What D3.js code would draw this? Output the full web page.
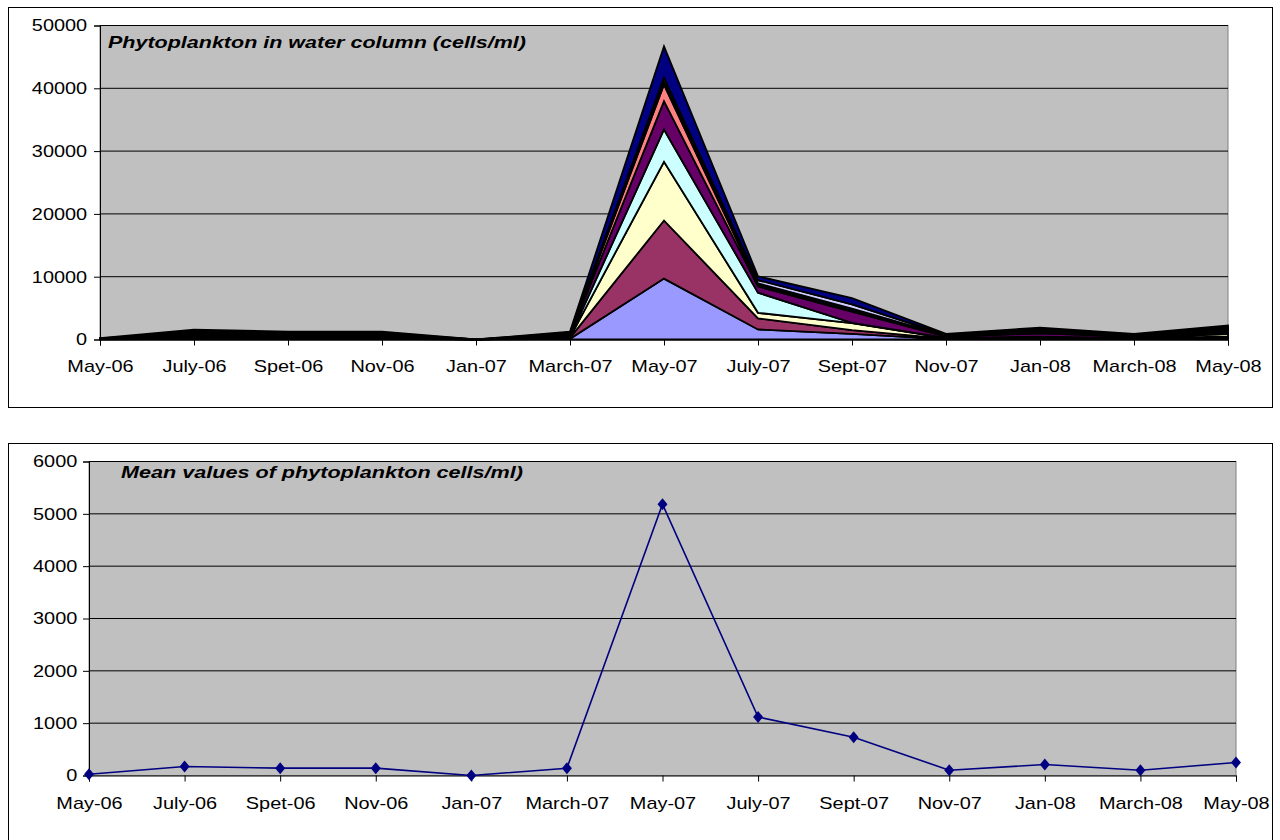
<!DOCTYPE html>
<meta charset="utf-8">
<script src="https://d3js.org/d3.v7.min.js"></script>
<style>
    body { margin: 0; background: #fff; }
    text { font-family: Arial, "Liberation Sans", sans-serif; fill: #000; }
</style>
<div id="charts"></div>
<script>
    // sampling dates (spelling as on the original axis)
    const dates = ["May-06","July-06","Spet-06","Nov-06","Jan-07","March-07","May-07",
                   "July-07","Sept-07","Nov-07","Jan-08","March-08","May-08"];

    // nine stacked groups, cells/ml, bottom to top
    const group1 = [30, 100,  80,  90, 0, 100, 9700, 1600,  900,  60, 120,  60, 300];
    const group2 = [20, 150, 120, 110, 0, 150, 9250, 1750,  600,  90, 150,  80, 200];
    const group3 = [20, 120, 100, 100, 0, 100, 9350,  900, 1100,  80, 130,  70, 400];
    const group4 = [10,  80,  90,  70, 0,  60, 5150, 3200,   50,  40,  60,  40, 100];
    const group5 = [40, 300, 250, 260, 0, 250, 4500, 1000, 1800, 200, 500, 200, 300];
    const group6 = [15, 100,  80,  90, 0,  80, 2650,  200,  150,  60, 130,  70, 130];
    const group7 = [20, 150, 120, 120, 0, 120,  400,  300,  300,  90, 200, 100, 200];
    const group8 = [30, 250, 200, 200, 0, 200,  700,  500,  700, 140, 300, 140, 300];
    const group9 = [40, 300, 220, 220, 0, 200, 4970,  610,  980, 150, 300, 150, 300];
    const groups = [group1, group2, group3, group4, group5, group6, group7, group8, group9];
    const groupColors = ["#9999FF","#993366","#FFFFCC","#CCFFFF","#660066","#FF8080","#0066CC","#CCCCFF","#000080"];

    // mean of the nine groups
    const meanCells = [25, 172, 140, 140, 0, 140, 5185, 1118, 731, 101, 210, 101, 248];

    const topTicks = [0, 10000, 20000, 30000, 40000, 50000];
    const bottomTicks = [0, 1000, 2000, 3000, 4000, 5000, 6000];

    const svg = d3.select("#charts").append("svg")
        .attr("width", 1280)
        .attr("height", 840);

    const stretch = "scale(1.17,1)";

    // ---------- frames ----------
    svg.append("rect").attr("x", 8.5).attr("y", 7.5).attr("width", 1264).attr("height", 400)
        .attr("fill", "#fff").attr("stroke", "#000");
    svg.append("rect").attr("x", 8.5).attr("y", 443.5).attr("width", 1264).attr("height", 400)
        .attr("fill", "#fff").attr("stroke", "#000");

    // ---------- top chart: stacked area ----------
    const x1 = d3.scalePoint().domain(dates).range([100, 1228]);
    const y1 = d3.scaleLinear().domain([0, 50000]).range([339.5, 25.5]);

    const areaChart = svg.append("g");
    areaChart.append("rect")
        .attr("x", 100).attr("y", y1(50000))
        .attr("width", 1128).attr("height", y1(0) - y1(50000))
        .attr("fill", "#C0C0C0").attr("stroke", "#808080");

    areaChart.selectAll(".grid").data(topTicks.slice(1)).join("line")
        .attr("x1", 100).attr("x2", 1228)
        .attr("y1", d => y1(d)).attr("y2", d => y1(d))
        .attr("stroke", "#000").attr("stroke-width", 1);

    const table = dates.map((d, i) => {
        const row = {date: d};
        groups.forEach((g, k) => row["g" + k] = g[i]);
        return row;
    });
    const keys = groups.map((g, k) => "g" + k);
    const stacked = d3.stack().keys(keys)(table);

    const area = d3.area()
        .x(d => x1(d.data.date))
        .y0(d => y1(d[0]))
        .y1(d => y1(d[1]));

    areaChart.selectAll(".layer").data(stacked).join("path")
        .attr("d", area)
        .attr("fill", (d, i) => groupColors[i])
        .attr("stroke", "#000")
        .attr("stroke-width", 1.8)
        .attr("stroke-linejoin", "miter");

    const xAxis1 = areaChart.append("g")
        .attr("transform", `translate(0,${y1(0)})`)
        .call(d3.axisBottom(x1).tickSize(6).tickPadding(14));
    const yAxis1 = areaChart.append("g")
        .attr("transform", "translate(100,0)")
        .call(d3.axisLeft(y1).tickValues(topTicks).tickFormat(d3.format("d")).tickSize(6).tickPadding(5));

    areaChart.append("text")
        .attr("x", 108).attr("y", 48)
        .attr("font-size", 17).attr("font-weight", "bold").attr("font-style", "italic")
        .attr("textLength", 418).attr("lengthAdjust", "spacingAndGlyphs")
        .text("Phytoplankton in water column (cells/ml)");

    // ---------- bottom chart: mean line ----------
    const x2 = d3.scalePoint().domain(dates).range([89, 1236]);
    const y2 = d3.scaleLinear().domain([0, 6000]).range([775.5, 461.5]);

    const lineChart = svg.append("g");
    lineChart.append("rect")
        .attr("x", 89).attr("y", y2(6000))
        .attr("width", 1147).attr("height", y2(0) - y2(6000))
        .attr("fill", "#C0C0C0").attr("stroke", "#808080");

    lineChart.selectAll(".grid").data(bottomTicks.slice(1)).join("line")
        .attr("x1", 89).attr("x2", 1236)
        .attr("y1", d => y2(d)).attr("y2", d => y2(d))
        .attr("stroke", "#000").attr("stroke-width", 1);

    const xAxis2 = lineChart.append("g")
        .attr("transform", `translate(0,${y2(0)})`)
        .call(d3.axisBottom(x2).tickSize(6).tickPadding(15));
    const yAxis2 = lineChart.append("g")
        .attr("transform", "translate(89,0)")
        .call(d3.axisLeft(y2).tickValues(bottomTicks).tickFormat(d3.format("d")).tickSize(6).tickPadding(4));

    lineChart.append("path")
        .datum(meanCells)
        .attr("d", d3.line().x((d, i) => x2(dates[i])).y(d => y2(d)))
        .attr("fill", "none")
        .attr("stroke", "#000080")
        .attr("stroke-width", 1.6);

    lineChart.selectAll(".marker").data(meanCells).join("path")
        .attr("transform", (d, i) => `translate(${x2(dates[i])},${y2(d)})`)
        .attr("d", "M0,-6L5,0L0,6L-5,0Z")
        .attr("fill", "#000080");

    lineChart.append("text")
        .attr("x", 121).attr("y", 478)
        .attr("font-size", 17).attr("font-weight", "bold").attr("font-style", "italic")
        .attr("textLength", 402).attr("lengthAdjust", "spacingAndGlyphs")
        .text("Mean values of phytoplankton cells/ml)");

    // axis styling, Excel-like
    [xAxis1, yAxis1, xAxis2, yAxis2].forEach(ax => {
        ax.selectAll(".domain").attr("stroke", "#000");
        ax.selectAll(".tick line").attr("stroke", "#000");
        ax.selectAll(".tick text")
            .attr("font-size", 17)
            .attr("font-family", "Arial, 'Liberation Sans', sans-serif")
            .attr("transform", stretch);
    });
</script>
